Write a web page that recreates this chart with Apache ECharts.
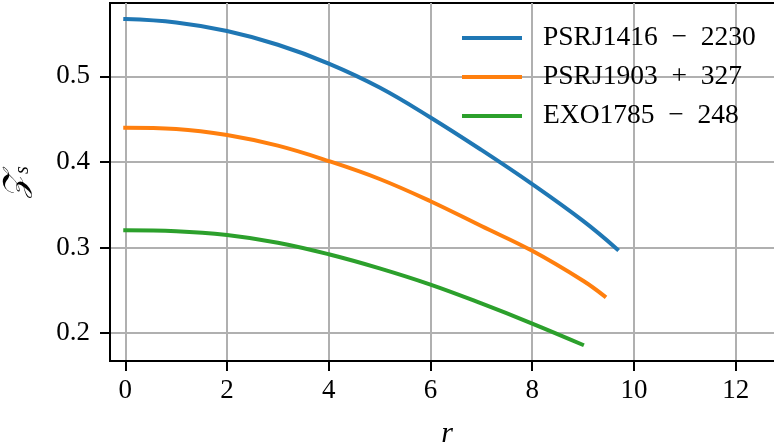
<!DOCTYPE html>
<html>
<head>
<meta charset="utf-8">
<script src="https://cdn.jsdelivr.net/npm/echarts@6/dist/echarts.min.js"></script>
<style>html,body{margin:0;padding:0;background:#fff}#c{width:774px;height:448px}</style>
</head>
<body>
<div id="c"></div>
<script>
const seriesNames = ['PSRJ1416 − 2230', 'PSRJ1903 + 327', 'EXO1785 − 248'];
const rBlue = [0, 1, 2, 3, 4, 5, 6, 7, 8, 9, 9.67];
const zBlue = [0.567, 0.563, 0.553, 0.537, 0.515, 0.487, 0.452, 0.414, 0.374, 0.331, 0.298];
const rOrange = [0, 1, 2, 3, 4, 5, 6, 7, 8, 9, 9.42];
const zOrange = [0.440, 0.4385, 0.4315, 0.419, 0.401, 0.380, 0.354, 0.325, 0.296, 0.261, 0.243];
const rGreen = [0, 1, 2, 3, 4, 5, 6, 7, 8, 8.98];
const zGreen = [0.320, 0.319, 0.3145, 0.3055, 0.292, 0.2755, 0.2565, 0.2345, 0.211, 0.1865];
const xTicks = [0, 2, 4, 6, 8, 10, 12];
const yTicks = [0.2, 0.3, 0.4, 0.5];
const colors = ['#1f77b4', '#ff7f0e', '#2ca02c'];

const FONT = '"Liberation Serif", "DejaVu Serif", serif';
function pairs(xs, ys) { return xs.map((x, i) => [x, ys[i]]); }
const seriesData = [pairs(rBlue, zBlue), pairs(rOrange, zOrange), pairs(rGreen, zGreen)];

const chart = echarts.init(document.getElementById('c'), null, {renderer: 'canvas'});
chart.setOption({
  animation: false,
  backgroundColor: '#fff',
  grid: {left: 110, right: -10, top: 3, bottom: 87, show: true, borderColor: '#000', borderWidth: 2,
    containLabel: false, outerBoundsMode: 'none'},
  legend: {
    orient: 'vertical', left: 462, top: 23, padding: 0, itemWidth: 60, itemHeight: 4, itemGap: 9,
    icon: 'rect',
    data: seriesNames,
    formatter: n => n.replace(' − ', '\u2002−\u2002').replace(' + ', '\u2002+\u2002'),
    textStyle: {fontFamily: FONT, fontSize: 27.5, color: '#000', lineHeight: 30, padding: [0, 0, 0, 16]}
  },
  xAxis: {
    type: 'value', min: -0.3, max: 12.95,
    axisLine: {show: true, onZero: false, lineStyle: {color: '#000', width: 2}},
    axisTick: {show: true, length: 10, customValues: xTicks, lineStyle: {color: '#000', width: 2}},
    axisLabel: {customValues: xTicks, margin: 16, fontFamily: FONT, fontSize: 27, color: '#000'},
    splitLine: {show: true, lineStyle: {color: '#b0b0b0', width: 2}},
    name: 'r', nameLocation: 'middle', nameGap: 58,
    nameTextStyle: {fontFamily: FONT, fontSize: 30, fontStyle: 'italic', color: '#000'}
  },
  yAxis: {
    type: 'value', min: 0.1672, max: 0.5858,
    axisLine: {show: true, onZero: false, lineStyle: {color: '#000', width: 2}},
    axisTick: {show: true, length: 10, customValues: yTicks, lineStyle: {color: '#000', width: 2}},
    axisLabel: {customValues: yTicks, margin: 20, fontFamily: FONT, fontSize: 27, color: '#000',
      formatter: v => v.toFixed(1)},
    splitLine: {show: true, lineStyle: {color: '#b0b0b0', width: 2}},
    name: '{z|𝒵}{s|s}', nameLocation: 'middle', nameGap: 77, nameRotate: 90,
    nameTextStyle: {
      rich: {
        z: {fontFamily: FONT, fontSize: 32, fontStyle: 'italic', color: '#000'},
        s: {fontFamily: FONT, fontSize: 20, fontStyle: 'italic', color: '#000', verticalAlign: 'bottom', padding: [10, 0, 0, 0]}
      }
    }
  },
  series: seriesNames.map((n, i) => ({
    name: n, type: 'line', data: seriesData[i], smooth: 0.4, showSymbol: false,
    lineStyle: {color: colors[i], width: 4, cap: 'square'}, itemStyle: {color: colors[i]}, z: 3
  }))
});
</script>
</body>
</html>
